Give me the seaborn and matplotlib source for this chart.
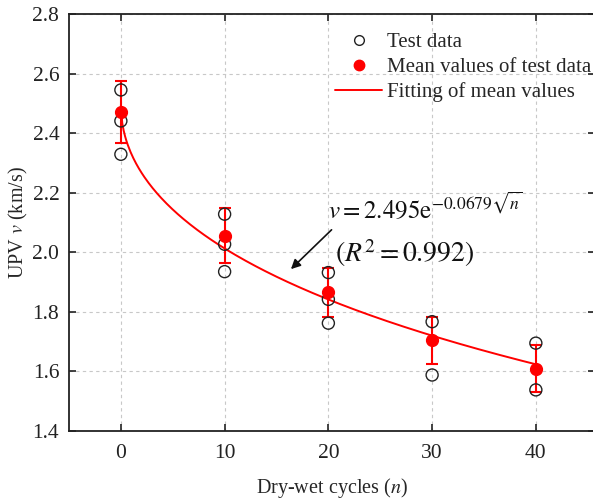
import numpy as np
import pandas as pd
import matplotlib
matplotlib.use("Agg")
import matplotlib.pyplot as plt
from matplotlib.lines import Line2D
import seaborn as sns

# Measured UPV for each dry-wet cycle count
test_cycles = [0, 0, 0, 10, 10, 10, 20, 20, 20, 30, 30, 40, 40]
test_upv = [2.545, 2.441, 2.329, 2.128, 2.027, 1.935, 1.932, 1.842, 1.762,
            1.767, 1.588, 1.695, 1.538]

# Means and spread
mean_cycles = [0, 10, 20, 30, 40]
mean_upv = [2.470, 2.055, 1.866, 1.704, 1.608]
err_low = [0.104, 0.092, 0.082, 0.079, 0.076]
err_high = [0.106, 0.093, 0.080, 0.080, 0.081]

# Fitted model v = a * exp(b * sqrt(n))
fit_a = 2.495
fit_b = -0.0679

sns.set_theme(style="ticks")
plt.rcParams["font.family"] = ["Liberation Serif", "DejaVu Serif"]
plt.rcParams["mathtext.fontset"] = "stix"

fig = plt.figure(figsize=(5.93, 4.99), dpi=100)
W, H = 593, 499
left, right, top, bottom = 69, 595, 14, 431
ax = fig.add_axes([left / W, 1 - bottom / H, (right - left) / W, (bottom - top) / H])

n_fit = np.linspace(0, 40, 300)
fit_df = pd.DataFrame({"n": n_fit, "v": fit_a * np.exp(fit_b * np.sqrt(n_fit))})
test_df = pd.DataFrame({"n": test_cycles, "v": test_upv})

ax.grid(True, color="#c8c8c8", linestyle=(0, (3, 3)), linewidth=0.8)
ax.set_axisbelow(True)

sns.lineplot(data=fit_df, x="n", y="v", ax=ax, color="#ff0000", linewidth=1.4,
             zorder=3, legend=False)
ax.errorbar(mean_cycles, mean_upv, yerr=[err_low, err_high], fmt="none",
            ecolor="#ff0000", elinewidth=1.5, capsize=4.5, capthick=1.5, zorder=4)
sns.scatterplot(data=test_df, x="n", y="v", ax=ax, marker="o", s=75,
                facecolor="none", edgecolor="#222222", linewidth=1.0,
                zorder=5, legend=False)
ax.plot(mean_cycles, mean_upv, "o", color="#ff0000", markersize=8.5, zorder=6)

ax.set_xlim(-5, 45.7)
ax.set_ylim(1.4, 2.8)
ax.set_xticks([0, 10, 20, 30, 40])
yt = np.arange(1.4, 2.81, 0.2)
ax.set_yticks(yt)
ax.set_yticklabels([f"{t:.1f}" for t in yt])
ax.tick_params(direction="in", length=5, width=1.2, top=True, right=True,
               labelsize=15.5, colors="#222222", pad=7)
ax.tick_params(axis="x", pad=9)
for s in ax.spines.values():
    s.set_linewidth(1.3)
    s.set_color("#222222")

ax.set_xlabel("Dry-wet cycles ($n$)", fontsize=14.5, labelpad=10)
ax.set_ylabel("UPV $v$ (km/s)", fontsize=14.5, labelpad=2)

# Legend
handles = [
    Line2D([], [], marker="o", linestyle="none", markerfacecolor="none",
           markeredgecolor="#222222", markersize=7, markeredgewidth=1.0),
    Line2D([], [], marker="o", linestyle="none", color="#ff0000", markersize=7.5),
    Line2D([], [], color="#ff0000", linewidth=1.4),
]
labels = ["Test data", "Mean values of test data", "Fitting of mean values"]
ax.legend(handles, labels, loc="upper left", bbox_to_anchor=(0.506, 0.955),
          frameon=False, fontsize=15, handlelength=2.25, handletextpad=0.25,
          labelspacing=0.25, borderaxespad=0.0, borderpad=0.0)

# Fit equation and arrow
ax.annotate("", xy=(16.2, 1.937), xytext=(20.5, 2.082),
            arrowprops=dict(arrowstyle="-|>", color="#111111", lw=1.2,
                            mutation_scale=14))
ax.text(20.0, 2.10, r"$v = 2.495\mathrm{e}^{-0.0679\sqrt{n}}$", fontsize=18,
        color="#111111", va="bottom", ha="left")
ax.text(20.6, 1.945, r"$(R^2 = 0.992)$", fontsize=20, color="#111111",
        va="bottom", ha="left")

fig.savefig("out.png", dpi=100)
